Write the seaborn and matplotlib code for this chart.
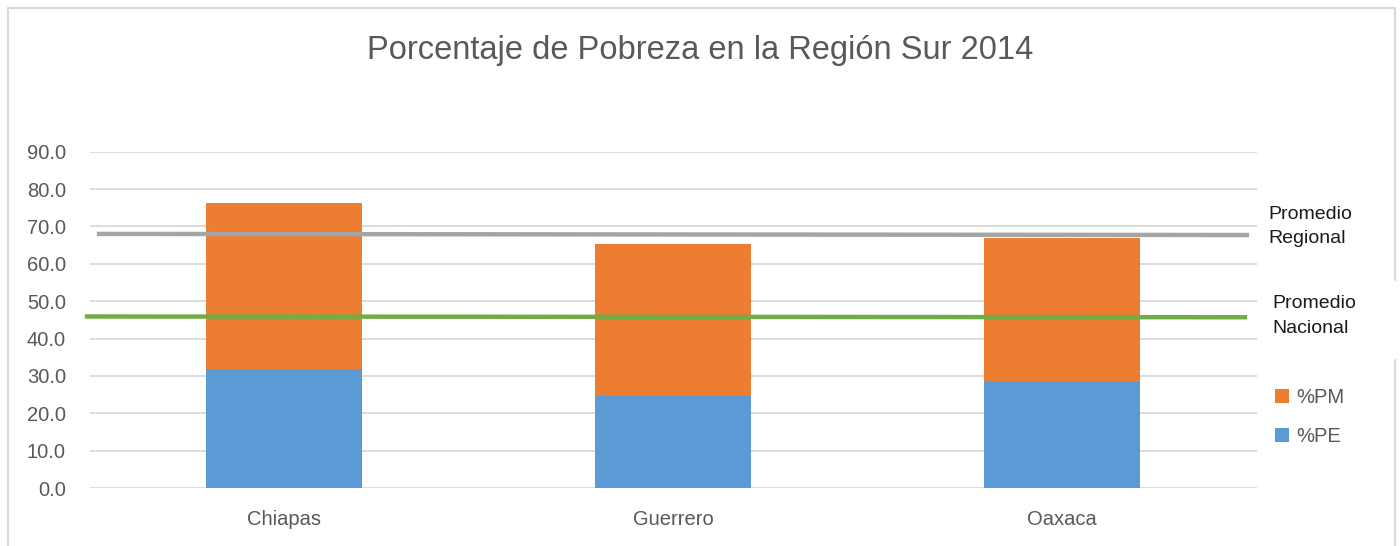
import matplotlib
matplotlib.use("Agg")
import matplotlib.pyplot as plt
from matplotlib.lines import Line2D
from matplotlib import font_manager
import seaborn as sns
import pandas as pd

# ---- data ----
estados = ["Chiapas", "Guerrero", "Oaxaca"]
pct_pe = [31.8, 24.5, 28.3]   # pobreza extrema
pct_pm = [44.4, 40.7, 38.5]   # pobreza moderada
promedio_regional = [68.0, 67.7]
promedio_nacional = [45.9, 45.7]
y_ticks = [0, 10, 20, 30, 40, 50, 60, 70, 80, 90]
titulo = "Porcentaje de Pobreza en la Región Sur 2014"

sns.set_theme(style="white")
names = {f.name for f in font_manager.fontManager.ttflist}
fam = "Liberation Sans" if "Liberation Sans" in names else "DejaVu Sans"
plt.rcParams["font.family"] = [fam, "DejaVu Sans"]

GREY_TXT = "#595959"
ORANGE = "#ED7D31"
BLUE = "#5B9BD5"

df = pd.DataFrame({"estado": estados, "pe": pct_pe, "pm": pct_pm})
df["total"] = df["pe"] + df["pm"]

fig = plt.figure(figsize=(14, 5.46), dpi=100)
ax = fig.add_axes([89.5 / 1400, 58 / 546, (1256.5 - 89.5) / 1400, (488 - 151.7) / 546])

sns.barplot(data=df, x="estado", y="total", color=ORANGE, width=0.4,
            linewidth=0, saturation=1, label="%PM", ax=ax, zorder=2)
sns.barplot(data=df, x="estado", y="pe", color=BLUE, width=0.4,
            linewidth=0, saturation=1, label="%PE", ax=ax, zorder=2)
if ax.get_legend() is not None:
    ax.get_legend().remove()

ax.plot([-0.481, 2.481], promedio_regional, color="#A5A5A5", lw=3.2,
        solid_capstyle="butt", zorder=3, clip_on=False)
ax.plot([-0.512, 2.476], promedio_nacional, color="#70AD47", lw=3.2,
        solid_capstyle="butt", zorder=3, clip_on=False)

ax.set_xlim(-0.5, 2.5)
ax.set_ylim(0, 90)
ax.set_yticks(y_ticks)
ax.set_yticklabels([f"{v:.1f}" for v in y_ticks])
ax.yaxis.grid(True, color="#D9D9D9", lw=1.3, zorder=0)
ax.set_axisbelow(True)
for s in ax.spines.values():
    s.set_visible(False)
ax.tick_params(axis="y", length=0, pad=17, labelsize=14.5, labelcolor=GREY_TXT)
ax.tick_params(axis="x", length=0, pad=16, labelsize=14.5, labelcolor=GREY_TXT)
ax.set_xlabel("")
ax.set_ylabel("")

# legend: %PM above %PE
h, l = ax.get_legend_handles_labels()
order = [l.index("%PM"), l.index("%PE")]
leg = fig.legend([h[i] for i in order], [l[i] for i in order], loc="upper left",
                 bbox_to_anchor=(1275 / 1400, 1 - 388 / 546),
                 frameon=False, fontsize=14.5, handlelength=0.7, handleheight=0.7,
                 handletextpad=0.35, labelspacing=1.0, borderpad=0, borderaxespad=0)
for t in leg.get_texts():
    t.set_color(GREY_TXT)

# title
fig.text(0.5, 1 - 50 / 546, titulo, ha="center", va="center",
         fontsize=23.5, color=GREY_TXT)

# chart border
bc = "#D9D9D9"
fig.add_artist(Line2D([7.5 / 1400, 1395 / 1400], [1 - 7.5 / 546] * 2, color=bc, lw=1.5))
fig.add_artist(Line2D([7.5 / 1400] * 2, [0, 1 - 7.5 / 546], color=bc, lw=1.5))
fig.add_artist(Line2D([1395 / 1400] * 2, [1 - 280 / 546, 1 - 7.5 / 546], color=bc, lw=1.5))
fig.add_artist(Line2D([1395 / 1400] * 2, [0, 1 - 360 / 546], color=bc, lw=1.5))

# annotations
fig.text(1268 / 1400, 1 - 226.5 / 546, "Promedio\nRegional", ha="left", va="center",
         fontsize=14, color="#1a1a1a", linespacing=1.55)
fig.text(1272 / 1400, 1 - 316 / 546, "Promedio\nNacional", ha="left", va="center",
         fontsize=14, color="#1a1a1a", linespacing=1.55)

fig.savefig("out.png", dpi=100, facecolor="white")
